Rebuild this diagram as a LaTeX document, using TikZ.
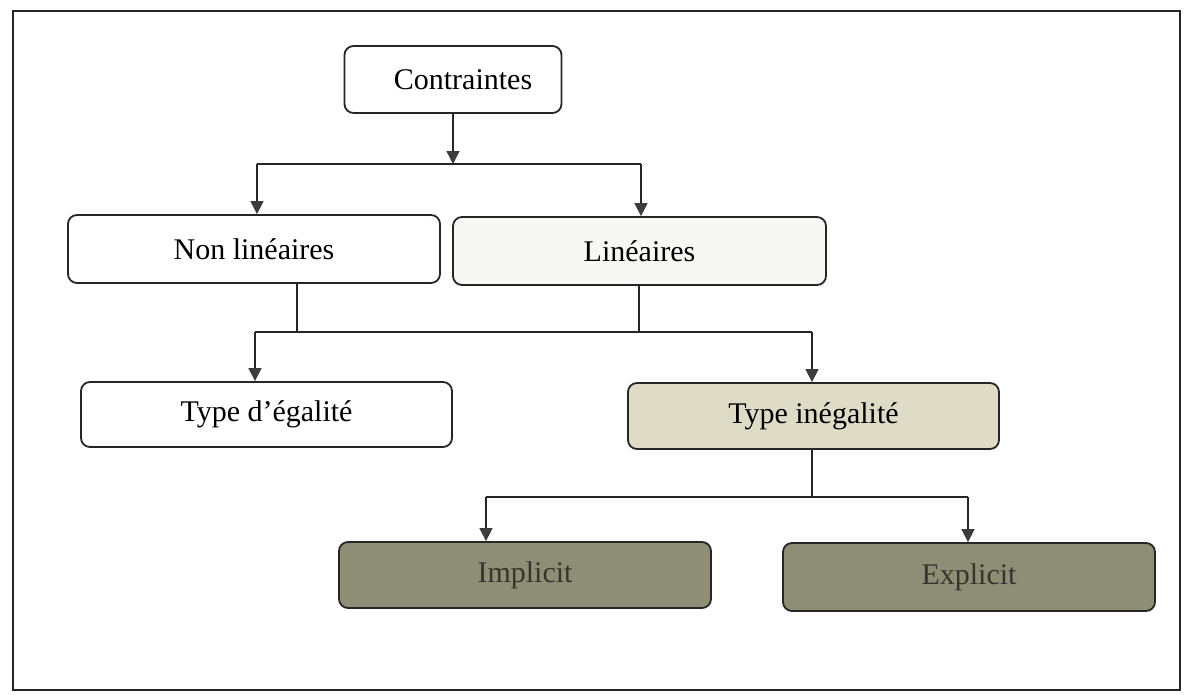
\documentclass[tikz,border=0pt]{standalone}
\usepackage{fontspec}
\setmainfont{Liberation Serif}
\usetikzlibrary{arrows.meta}
\definecolor{ink}{HTML}{262626}
\definecolor{tipgray}{HTML}{3C3C3C}
\definecolor{lightfill}{HTML}{F7F7F3}
\definecolor{beige}{HTML}{DEDBC6}
\definecolor{olive}{HTML}{8E8E76}
\definecolor{darktext}{HTML}{35352E}
\begin{document}
\begin{tikzpicture}[x=1pt,y=-1pt,
  box/.style={draw=ink, line width=1.8pt, rounded corners=9pt, inner sep=0pt,
    font=\fontsize{30}{36}\selectfont, text=black},
  conn/.style={draw=ink, line width=1.4pt},
  arr/.style={conn, -{Triangle[width=13pt,length=13pt]}, arrows={[color=tipgray]}}]
\useasboundingbox (0,0) rectangle (1185,694);
\draw[ink, line width=1.5pt] (13,11) rectangle (1180,690);

\node[box, fill=white, minimum width=217pt, minimum height=67pt] (c) at (453,79.5) {\hspace*{20pt}Contraintes};
\node[box, fill=white, minimum width=372pt, minimum height=68pt] (nl) at (254,249) {Non linéaires};
\node[box, fill=lightfill, minimum width=373pt, minimum height=68pt] (l) at (639.5,251) {Linéaires};
\node[box, fill=white, minimum width=371pt, minimum height=65pt] (te) at (266.5,414.5) {Type d'égalité};
\node[box, fill=beige, minimum width=371pt, minimum height=66pt] (ti) at (813.5,416) {Type inégalité};
\node[box, fill=olive, text=darktext, minimum width=372pt, minimum height=66pt] (im) at (525,575) {Implicit};
\node[box, fill=olive, text=darktext, minimum width=372pt, minimum height=68pt] (ex) at (969,577) {Explicit};

% level 1
\coordinate (a1) at (257,164);
\coordinate (a2) at (641,164);
\draw[conn] (a1) -- (a2);
\draw[arr] (c.south) -- (c.south |- a1);
\draw[arr] (a1) -- (a1 |- nl.north);
\draw[arr] (a2) -- (a2 |- l.north);

% level 2
\coordinate (b1) at (255,332);
\coordinate (b2) at (812,332);
\coordinate (b3) at (297,332);
\coordinate (b4) at (639,332);
\draw[conn] (b1) -- (b2);
\draw[conn] (b3 |- nl.south) -- (b3);
\draw[conn] (b4 |- l.south) -- (b4);
\draw[arr] (b1) -- (b1 |- te.north);
\draw[arr] (b2) -- (b2 |- ti.north);

% level 3
\coordinate (d1) at (486,497);
\coordinate (d2) at (968,497);
\coordinate (d3) at (812,497);
\draw[conn] (d1) -- (d2);
\draw[conn] (d3 |- ti.south) -- (d3);
\draw[arr] (d1) -- (d1 |- im.north);
\draw[arr] (d2) -- (d2 |- ex.north);
\end{tikzpicture}
\end{document}
